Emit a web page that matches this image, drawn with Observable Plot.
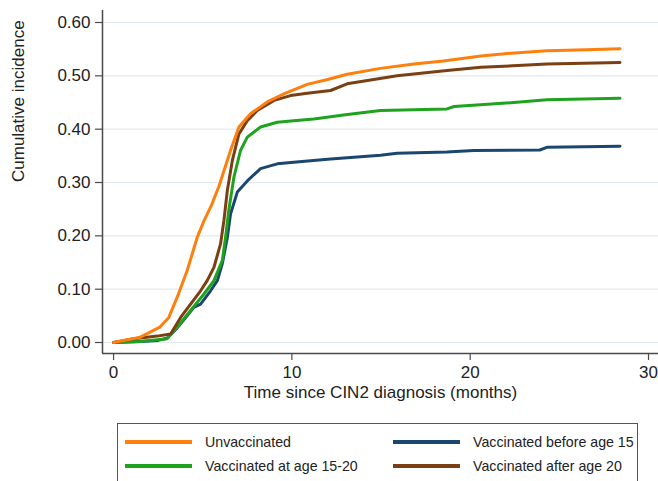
<!DOCTYPE html>
<html>
<head>
<meta charset="utf-8">
<script src="https://cdn.jsdelivr.net/npm/d3@7"></script>
<script src="https://cdn.jsdelivr.net/npm/@observablehq/plot@0.6"></script>
<style>
  html, body { margin: 0; padding: 0; background: #fff; }
  body { width: 658px; height: 481px; overflow: hidden; font-family: "Liberation Sans", Arial, sans-serif; }
  #chart svg { display: block; }
  #legend {
    position: absolute; left: 117px; top: 423px; width: 521px; height: 62px;
    border: 1px solid #555; box-sizing: border-box;
  }
  .item { position: absolute; height: 20px; font-size: 14.2px; color: #222; line-height: 20px; white-space: nowrap; }
  .item .sw { position: absolute; left: 0; top: 8px; width: 67px; height: 4px; }
  .item .lb { position: absolute; left: 80px; top: 0; }
</style>
</head>
<body>
<div id="chart"></div>
<div id="legend"></div>
<script>
// ---- Data ----
const seriesNames = ["Unvaccinated", "Vaccinated before age 15", "Vaccinated at age 15-20", "Vaccinated after age 20"];
const seriesColors = ["#ff7f0e", "#1a476f", "#1fa31f", "#7a3f12"];

const unvacMonths = [0, 1.5, 2.6, 3.1, 3.57, 4.13, 4.69, 5.07, 5.5, 5.9, 6.56, 7.03, 7.68, 8.62, 9.55, 10.86, 12.0, 13.1, 14.97, 16.84, 18.5, 20.6, 22.5, 24.3, 26.5, 28.4];
const unvacValues = [0, 0.01, 0.029, 0.047, 0.085, 0.135, 0.197, 0.228, 0.258, 0.292, 0.36, 0.404, 0.429, 0.451, 0.466, 0.484, 0.493, 0.503, 0.514, 0.522, 0.528, 0.537, 0.543, 0.547, 0.549, 0.551];

const before15Months = [0, 1.5, 2.5, 3.0, 3.5, 4.0, 4.5, 4.88, 5.44, 5.82, 6.1, 6.38, 6.56, 6.94, 7.5, 8.24, 9.18, 10.1, 11.05, 12.17, 14.97, 15.9, 18.7, 20.2, 23.9, 24.3, 28.4];
const before15Values = [0, 0.002, 0.004, 0.008, 0.025, 0.045, 0.066, 0.072, 0.097, 0.116, 0.148, 0.197, 0.241, 0.282, 0.303, 0.326, 0.335, 0.338, 0.341, 0.344, 0.351, 0.355, 0.357, 0.36, 0.361, 0.366, 0.368];

const age1520Months = [0, 1.5, 3.0, 3.57, 4.32, 5.07, 5.63, 6.1, 6.28, 6.47, 6.75, 7.12, 7.5, 8.24, 9.18, 10.1, 11.23, 13.0, 14.97, 18.7, 19.1, 22.45, 24.3, 28.4];
const age1520Values = [0, 0.002, 0.007, 0.029, 0.06, 0.091, 0.116, 0.154, 0.197, 0.25, 0.31, 0.36, 0.385, 0.404, 0.413, 0.416, 0.419, 0.427, 0.435, 0.438, 0.4425, 0.45, 0.455, 0.458];

const after20Months = [0, 1.14, 2.45, 3.2, 3.76, 4.32, 4.88, 5.25, 5.63, 6.0, 6.19, 6.38, 6.66, 7.03, 7.5, 8.06, 9.0, 9.93, 10.86, 12.17, 13.1, 15.9, 18.7, 20.6, 24.3, 28.4];
const after20Values = [0, 0.007, 0.012, 0.016, 0.047, 0.072, 0.097, 0.116, 0.141, 0.185, 0.229, 0.285, 0.341, 0.391, 0.416, 0.435, 0.454, 0.463, 0.4675, 0.4725, 0.485, 0.50, 0.51, 0.516, 0.522, 0.525];

const xTicks = [0, 10, 20, 30];
const yTicks = [0, 0.1, 0.2, 0.3, 0.4, 0.5, 0.6];
const xTitle = "Time since CIN2 diagnosis (months)";
const yTitle = "Cumulative incidence";

// ---- Build table ----
const monthsBySeries = [unvacMonths, before15Months, age1520Months, after20Months];
const valuesBySeries = [unvacValues, before15Values, age1520Values, after20Values];
const rows = [];
seriesNames.forEach((name, i) => {
  monthsBySeries[i].forEach((m, j) => rows.push({series: name, month: m, value: valuesBySeries[i][j]}));
});

const xDomain = [-0.62, 30.56];
const yDomain = [-0.0206, 0.6225];
const axisColor = "#4a4a4a";
const drawOrder = [seriesNames[1], seriesNames[2], seriesNames[3], seriesNames[0]];

const plot = Plot.plot({
  width: 658,
  height: 418,
  marginLeft: 102,
  marginRight: 0,
  marginTop: 10,
  marginBottom: 65,
  style: {fontFamily: "'Liberation Sans', Arial, sans-serif", fontSize: "17px", color: "#222", background: "#fff"},
  x: {domain: xDomain},
  y: {domain: yDomain},
  color: {domain: seriesNames, range: seriesColors},
  marks: [
    Plot.gridY(yTicks, {stroke: "#e3eaef", strokeOpacity: 1, strokeWidth: 1.2}),
    Plot.ruleX([xDomain[0]], {stroke: axisColor, strokeWidth: 1.5}),
    Plot.ruleY([yDomain[0]], {stroke: axisColor, strokeWidth: 1.5}),
    Plot.axisY(yTicks, {tickFormat: d3.format(".2f"), tickSize: 7, tickPadding: 5, stroke: axisColor, strokeWidth: 1.2, fontSize: 17, fill: "#222", label: null}),
    Plot.axisX(xTicks, {tickSize: 7, tickPadding: 5, stroke: axisColor, strokeWidth: 1.2, fontSize: 17, fill: "#222", label: null}),
    ...drawOrder.map(name => Plot.line(rows.filter(d => d.series === name), {
      x: "month", y: "value", stroke: "series", strokeWidth: 3, curve: "linear", strokeLinejoin: "round"
    })),
    Plot.text([yTitle], {text: d => d, frameAnchor: "left", dx: -84, rotate: -90, fontSize: 17, fill: "#222"}),
    Plot.text([xTitle], {text: d => d, frameAnchor: "bottom", dy: 44, fontSize: 17, fill: "#222"})
  ]
});
document.getElementById("chart").appendChild(plot);

// ---- Legend (HTML, below the SVG) ----
const legend = document.getElementById("legend");
const legendOrder = [0, 1, 2, 3]; // row-major: Unvaccinated | before 15 ; 15-20 | after 20
const colLeft = [7, 275];
const rowTop = [8, 32];
legendOrder.forEach((idx, k) => {
  const item = document.createElement("div");
  item.className = "item";
  item.style.left = colLeft[k % 2] + "px";
  item.style.top = rowTop[Math.floor(k / 2)] + "px";
  const sw = document.createElement("div");
  sw.className = "sw";
  sw.style.background = seriesColors[idx];
  const lb = document.createElement("div");
  lb.className = "lb";
  lb.textContent = seriesNames[idx];
  item.appendChild(sw); item.appendChild(lb);
  legend.appendChild(item);
});
</script>
</body>
</html>
